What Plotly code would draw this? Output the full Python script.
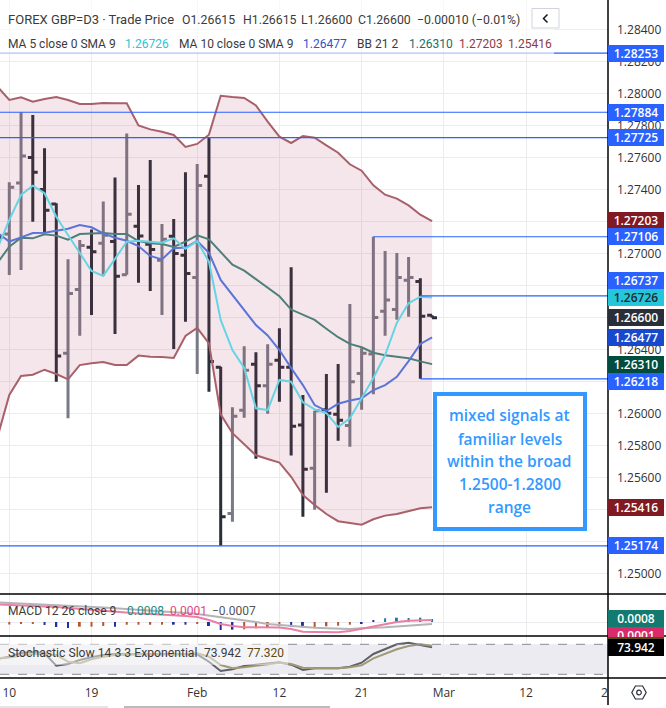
import plotly.graph_objects as go

W, H = 666, 708
bars = list(range(-1, 37))
opens = [1.27148,1.27123,1.27442,1.27602,1.27402,1.27311,1.26378,1.26777,1.27040,1.27065,1.27077,1.26869,1.27171,1.27059,1.26959,1.27109,1.26990,1.26852,1.27484,1.26290,1.25377,1.26021,1.26309,1.26175,1.26334,1.26290,1.25929,1.25659,1.26025,1.25996,1.25927,1.26252,1.26373,1.26640,1.26652,1.26834,1.26827,1.26615]
highs = [1.27336,1.27446,1.27884,1.27867,1.27659,1.27315,1.26965,1.27086,1.27152,1.27327,1.27477,1.27752,1.27429,1.27586,1.27186,1.27217,1.27509,1.27561,1.27725,1.26294,1.26040,1.26421,1.26384,1.26434,1.26534,1.26915,1.26117,1.26019,1.26248,1.26311,1.26686,1.26409,1.27106,1.27017,1.27004,1.26979,1.26846,1.26615]
lows = [1.26898,1.26867,1.26898,1.27200,1.27136,1.26200,1.25971,1.26487,1.26617,1.26861,1.26498,1.26869,1.26819,1.26767,1.26617,1.26404,1.26575,1.26248,1.26137,1.25174,1.25325,1.25975,1.25719,1.26000,1.26075,1.25738,1.25356,1.25400,1.25506,1.25831,1.25794,1.26025,1.26121,1.26487,1.26587,1.26606,1.26218,1.26600]
closes = [1.27102,1.27415,1.27611,1.27509,1.27271,1.26361,1.26752,1.27052,1.27012,1.27115,1.26859,1.27246,1.27111,1.27027,1.27090,1.27002,1.26877,1.27427,1.26327,1.25356,1.25984,1.26271,1.26175,1.26309,1.26290,1.25921,1.25653,1.26019,1.26003,1.25959,1.26200,1.26378,1.26602,1.26711,1.26852,1.26852,1.26609,1.26600]
bb_upper = [1.28044,1.27961,1.27978,1.27950,1.27967,1.27979,1.27961,1.27936,1.27936,1.27942,1.27940,1.27940,1.27802,1.27777,1.27762,1.27742,1.27667,1.27686,1.27744,1.27987,1.27979,1.27973,1.27927,1.27825,1.27731,1.27692,1.27736,1.27725,1.27677,1.27631,1.27559,1.27519,1.27427,1.27369,1.27344,1.27302,1.27244,1.27203]
bb_lower = [1.25856,1.26117,1.26236,1.26244,1.26275,1.26248,1.26215,1.26304,1.26315,1.26323,1.26304,1.26304,1.26363,1.26356,1.26354,1.26348,1.26486,1.26536,1.26440,1.25996,1.25878,1.25809,1.25740,1.25717,1.25695,1.25606,1.25492,1.25429,1.25373,1.25328,1.25315,1.25306,1.25340,1.25363,1.25373,1.25392,1.25409,1.25416]
bb_basis = [1.26944,1.27044,1.27100,1.27096,1.27121,1.27113,1.27088,1.27123,1.27127,1.27129,1.27123,1.27123,1.27079,1.27065,1.27061,1.27042,1.27075,1.27115,1.27090,1.27012,1.26931,1.26894,1.26840,1.26786,1.26734,1.26651,1.26621,1.26586,1.26531,1.26478,1.26436,1.26415,1.26381,1.26365,1.26356,1.26346,1.26327,1.26310]
ma10 = [1.27129,1.27076,1.27102,1.27129,1.27131,1.27144,1.27156,1.27179,1.27165,1.27127,1.27100,1.27081,1.27048,1.26986,1.26964,1.27034,1.27038,1.27079,1.27006,1.26836,1.26742,1.26648,1.26554,1.26489,1.26398,1.26286,1.26179,1.26054,1.26017,1.26062,1.26082,1.26096,1.26148,1.26179,1.26231,1.26329,1.26436,1.26477]
ma5 = [1.27036,1.27211,1.27367,1.27425,1.27378,1.27231,1.27117,1.27002,1.26892,1.26861,1.26965,1.27075,1.27081,1.27075,1.27069,1.27096,1.27031,1.27079,1.26950,1.26586,1.26398,1.26286,1.26034,1.26023,1.26211,1.26200,1.26071,1.26027,1.26003,1.25917,1.25971,1.26096,1.26223,1.26367,1.26569,1.26690,1.26731,1.26726]
macd_signal = [.00295,.00283,.00275,.00267,.00258,.0025,.00233,.00217,.002,.00183,.00167,.0015,.00142,.00133,.00125,.00108,.001,.00083,.00033,-.00033,-.00067,-.00088,-.00088,-.00088,-.00092,-.00117,-.00162,-.00167,-.00167,-.00172,-.0015,-.00112,-.00075,-.00033,0,.00022,.0003,.00033]
macd_line = [.00325,.00317,.00308,.003,.00292,.00283,.00275,.00267,.00258,.00242,.00228,.00217,.00205,.00192,.00183,.00167,.0015,.00133,.00108,.00078,.0005,.00022,0,-.00033,-.0005,-.00067,-.00083,-.00095,-.00105,-.00117,-.00117,-.00105,-.001,-.00088,-.00075,-.00062,-.00047,-.00033]
macd_hist = [-.00025,-.00042,-.00028,-.00028,-.0005,-.00083,-.001,-.00078,-.00078,-.00067,-.00078,-.00045,-.00045,-.00045,-.00045,-.00045,-.00045,-.00033,-.00067,-.00133,-.00128,-.00122,-.00105,-.00088,-.00072,-.00083,-.00088,-.00083,-.00072,-.00062,-.00045,-.00017,.00033,.00062,.00072,.00067,.00072,.0005]
hist_kind = ["b","b","b","b","n","n","n","b","b","b","n","b","b","b","b","n","n","b","n","n","n","b","b","b","b","n","n","b","b","b","b","n","n","t","t","t","t","t"]
stoch_k = [50.6,55.2,62.6,64.6,62,37.2,40.6,48.6,54,58.6,60.6,60,60,60,60.6,60.6,60.6,60,45.2,26.6,30,36.6,39.2,42,44,39.2,28.6,32,32,32,35.2,43.2,60.6,70.6,80,83.2,78,73.942]
stoch_d = [52.6,53.6,57.6,60.6,61.2,58.6,45.2,42,50,55.2,58.6,60,60,60,60,60.4,60.6,62,55.2,38.6,32,34,37.2,40.6,43.2,40.6,33.2,32,32,32,34,38,52,60.6,70,76.6,80,77.32]
for s in (opens, highs, lows, closes, bb_upper, bb_lower, bb_basis, ma10, ma5, macd_signal, macd_line, macd_hist, hist_kind, stoch_k, stoch_d):
    assert len(s) == len(bars), len(s)

full_levels = [1.28253, 1.27884, 1.27725, 1.25174]
bar_levels = [(31, 1.27106), (35, 1.26737), (35, 1.26218)]
x_tick_bars = [0, 7, 16, 23, 30, 37, 44]
x_tick_text = ["10", "19", "Feb", "12", "21", "Mar", "12"]
price_ticks = [1.25 + 0.002 * k for k in range(18)]
callout_lines = ["mixed signals at", "familiar levels", "within the broad", "1.2500-1.2800", "range"]

FONT = "Open Sans"
LEG = "Roboto"
BLUE = "#2962ff"
X0, X1 = -0.792, 50.98
px = lambda x: x / W
py = lambda y: 1 - y / H

fig = go.Figure()
band_col = "#a8606a"
fig.add_trace(go.Scatter(x=bars, y=bb_lower, mode="lines", line=dict(color=band_col, width=2)))
fig.add_trace(go.Scatter(x=bars, y=bb_upper, mode="lines", line=dict(color=band_col, width=2),
                         fill="tonexty", fillcolor="rgba(180,60,100,0.13)"))
fig.add_trace(go.Scatter(x=bars, y=bb_basis, mode="lines", line=dict(color="#4e7f78", width=2)))
fig.add_trace(go.Scatter(x=bars, y=ma10, mode="lines", line=dict(color="#5b74d8", width=2)))
fig.add_trace(go.Scatter(x=bars, y=ma5, mode="lines", line=dict(color="#68d4e3", width=2)))
fig.add_trace(go.Ohlc(x=bars, open=opens, high=highs, low=lows, close=closes, tickwidth=0.42,
                      increasing=dict(line=dict(color="#787b86", width=3)),
                      decreasing=dict(line=dict(color="#2a2e39", width=3))))
for lv in full_levels:
    fig.add_trace(go.Scatter(x=[X0, X1], y=[lv, lv], mode="lines", line=dict(color=BLUE, width=1.2)))
for start, lv in bar_levels:
    fig.add_trace(go.Scatter(x=[start, X1], y=[lv, lv], mode="lines", line=dict(color=BLUE, width=1.2)))

kind_col = {"b": "#b4562f", "n": "#2130a0", "t": "#1c7b9e"}
fig.add_trace(go.Bar(x=bars, y=macd_hist, width=0.17, marker=dict(color=[kind_col[k] for k in hist_kind], line_width=0),
                     xaxis="x2", yaxis="y2"))
fig.add_trace(go.Scatter(x=bars, y=macd_line, mode="lines", line=dict(color="#b4b4b8", width=2), xaxis="x2", yaxis="y2"))
fig.add_trace(go.Scatter(x=bars, y=macd_signal, mode="lines", line=dict(color="#ea7fa6", width=2), xaxis="x2", yaxis="y2"))
fig.add_trace(go.Scatter(x=bars, y=stoch_k, mode="lines", line=dict(color="#5f5f66", width=2), xaxis="x3", yaxis="y3"))
fig.add_trace(go.Scatter(x=bars, y=stoch_d, mode="lines", line=dict(color="#a09a74", width=2), xaxis="x3", yaxis="y3"))

GRID = "#ececf0"
xcommon = dict(range=[X0, X1], showgrid=True, gridcolor=GRID, gridwidth=1, tickvals=x_tick_bars,
               zeroline=False, showline=False, ticks="", domain=[0, 608 / W])
fig.update_layout(
    width=W, height=H, margin=dict(l=0, r=0, t=0, b=0), paper_bgcolor="white", plot_bgcolor="white",
    showlegend=False, hovermode=False, barmode="overlay",
    font=dict(family=FONT, size=12, color="#333333"),
    xaxis=dict(xcommon, anchor="y", showticklabels=False, rangeslider=dict(visible=False)),
    xaxis2=dict(xcommon, anchor="y2", matches="x", showticklabels=False),
    xaxis3=dict(xcommon, anchor="y3", matches="x", ticktext=x_tick_text, showticklabels=True,
                ticklabelstandoff=6, tickfont=dict(family=FONT, size=12, color="#333333")),
    yaxis=dict(domain=[(H - 594) / H, 1], range=[1.248731, 1.285856], side="right", anchor="x",
               tickvals=price_ticks, tickformat=".5f", showgrid=True, gridcolor=GRID, zeroline=False,
               ticklabelstandoff=8, tickfont=dict(family=FONT, size=12, color="#333333")),
    yaxis2=dict(domain=[(H - 636) / H, (H - 594) / H], range=[-0.002333, 0.004667], anchor="x2", side="right",
                showticklabels=False, showgrid=False, zeroline=True, zerolinecolor=GRID, zerolinewidth=1),
    yaxis3=dict(domain=[(H - 678) / H, (H - 636) / H], range=[12.6, 96.6], anchor="x3", side="right",
                showticklabels=False, showgrid=False, zeroline=False),
)

shapes = []
def rect(x0, y0, x1, y1, fill, line=None, lw=0, layer="above"):
    shapes.append(dict(type="rect", xref="paper", yref="paper", x0=px(x0), x1=px(x1), y0=py(y0), y1=py(y1),
                       fillcolor=fill, line=dict(color=line or "rgba(0,0,0,0)", width=lw), layer=layer))
def hline(x0, x1, y, col="#000000", w=1.5):
    shapes.append(dict(type="line", xref="paper", yref="paper", x0=px(x0), x1=px(x1), y0=py(y), y1=py(y),
                       line=dict(color=col, width=w), layer="above"))
def path(pts, col="#2a2e39", w=1.2, close=True):
    d = "M" + " L".join(f"{px(a):.5f},{py(b):.5f}" for a, b in pts) + (" Z" if close else "")
    shapes.append(dict(type="path", xref="paper", yref="paper", path=d, line=dict(color=col, width=w), layer="above"))

# stochastic band
shapes.append(dict(type="rect", xref="paper", yref="y3", x0=0, x1=608 / W, y0=20, y1=80,
                   fillcolor="#ecebf1", line=dict(width=0), layer="below"))
for v in (20, 80):
    shapes.append(dict(type="line", xref="paper", yref="y3", x0=0, x1=608 / W, y0=v, y1=v,
                       line=dict(color="#8a8a90", width=1, dash="dash"), layer="above"))
# translucent legend backgrounds
rect(0, 0, 554, 54, "rgba(255,255,255,0.62)")
rect(0, 643, 288, 665, "rgba(255,255,255,0.45)")
# callout
rect(435, 394, 585, 529, "white", "#3399ff", 4)
# separators
for y in (594, 636, 678):
    hline(0, W, y)
shapes.append(dict(type="line", xref="paper", yref="paper", x0=px(608), x1=px(608), y0=py(0), y1=py(705),
                   line=dict(color="#000000", width=1.5), layer="above"))
# scrollbar remnants
hline(0, 108, 707, "#c8c8c8", 1)
hline(124, 330, 707, "#777777", 1)
# back button
shapes.append(dict(type="rect", xref="paper", yref="paper", x0=px(532), x1=px(559), y0=py(8.5), y1=py(28),
                   fillcolor="white", line=dict(color="#d1d4dc", width=1), layer="above"))
path([(547.5, 14.5), (543.5, 18.5), (547.5, 22.5)], "#131722", 1.5, False)
# settings icon
cx, cy = 639, 692.5
path([(cx - 7.2, cy), (cx - 3.6, cy - 6.5), (cx + 3.6, cy - 6.5), (cx + 7.2, cy), (cx + 3.6, cy + 6.5), (cx - 3.6, cy + 6.5)])
shapes.append(dict(type="circle", xref="paper", yref="paper", x0=px(cx - 2.3), x1=px(cx + 2.3), y0=py(cy - 2.3), y1=py(cy + 2.3),
                   line=dict(color="#2a2e39", width=1.2), layer="above"))
fig.update_layout(shapes=shapes)

ann = []
def text(x, y, s, col="#3b3b3b", size=12, anchor="left", weight=None, family=LEG):
    f = dict(family=family, size=size, color=col)
    if weight:
        f["weight"] = weight
    ann.append(dict(text=s, x=px(x), y=py(y), xref="paper", yref="paper", xanchor=anchor, yanchor="middle",
                    showarrow=False, font=f, borderpad=0, borderwidth=0))
# header line 1
text(8, 20, "FOREX GBP=D3 · Trade Price", size=13)
for x, s in [(182, "O1.26615"), (243, "H1.26615"), (301, "L1.26600"),
             (358, "C1.26600"), (417, "−0.00010 (−0.01%)")]:
    text(x, 20, s, size=12.3)
# header line 2
for x, s, c in [(8, "MA 5 close 0 SMA 9", "#3b3b3b"), (125, "1.26726", "#2ec4d8"), (179, "MA 10 close 0 SMA 9", "#3b3b3b"),
                (303, "1.26477", "#2f55c8"), (357, "BB 21 2", "#3b3b3b"), (409, "1.26310", "#16706a"),
                (459, "1.27203", "#8f3a46"), (508, "1.25416", "#8f3a46")]:
    text(x, 44, s, c)
# panes
for x, s, c in [(8, "MACD 12 26 close 9", "#3b3b3b"), (127, "0.0008", "#1f8a80"), (170, "0.0001", "#e0457f"), (212, "−0.0007", "#555555")]:
    text(x, 611, s, c)
for x, s, c, z in [(8, "Stochastic Slow 14 3 3 Exponential", "#3b3b3b", 12.2), (204, "73.942", "#3b3b3b", 12), (247, "77.320", "#5c4a14", 12)]:
    text(x, 653, s, c, z)
text(608, 692, "2", "#333333", 12, "right", family=FONT)
# callout text
for y, s in zip((415, 438.5, 461, 484, 507), callout_lines):
    text(510, y, s, "#3399ff", 15.5, "center", 600, FONT)

def tag(value, s, bg, fg="white", yref="y", dy=0):
    ann.append(dict(text=s, x=px(608), y=value, xref="paper", yref=yref, xanchor="left", yanchor="middle", showarrow=False,
                    yshift=dy, width=56, height=17, align="center", bgcolor=bg, borderpad=0, borderwidth=0,
                    font=dict(family=FONT, size=12, color=fg, weight=600)))
tag(1.28253, "1.28253", BLUE)
tag(1.27884, "1.27884", BLUE)
tag(1.27725, "1.27725", BLUE)
tag(1.27203, "1.27203", "#801922", dy=1)
tag(1.27106, "1.27106", BLUE)
tag(1.26737, "1.26737", BLUE, dy=15)
tag(1.26726, "1.26726", "#26c6da", "#1f2a30")
tag(1.26600, "1.26600", "#2a2e39")
tag(1.26477, "1.26477", "#1848cc")
tag(1.26310, "1.26310", "#004d40")
tag(1.26218, "1.26218", BLUE, dy=-2.5)
tag(1.25416, "1.25416", "#801922")
tag(1.25174, "1.25174", BLUE)
tag(0.0008, "0.0008", "#137a70", yref="y2", dy=-1.5)
tag(0.0001, "0.0001", "#d92b6b", yref="y2", dy=-14)
tag(77.32, "77.320", "#5c4a14", yref="y3")
tag(73.942, "73.942", "#000000", yref="y3")
fig.update_layout(annotations=ann)

fig.write_html("out.html", config={"displayModeBar": False},
               post_script="document.body.style.margin='0';document.body.style.overflow='hidden';")
